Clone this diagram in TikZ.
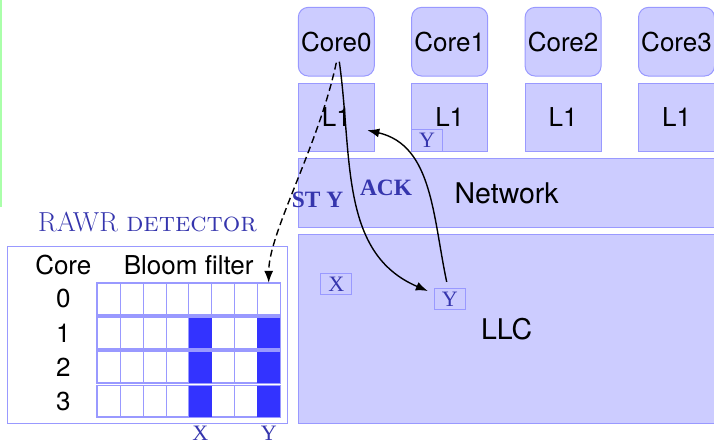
\documentclass[tikz,border=0pt]{standalone}
\usepackage{fontspec}
\newfontfamily\hv{TeX Gyre Heros}
\newfontfamily\tm{Liberation Serif}
\usetikzlibrary{arrows.meta}
\definecolor{boxfill}{HTML}{CCCCFF}
\definecolor{boxline}{HTML}{9999FF}
\definecolor{inkblue}{HTML}{3535AD}
\definecolor{bitset}{HTML}{3333FF}
\definecolor{guide}{HTML}{AAFFAA}
\begin{document}
\begin{tikzpicture}[x=1pt,y=-1pt,
  unit/.style={draw=boxline, fill=boxfill, line width=1pt, inner sep=0pt,
    font=\hv\fontsize{26}{30}\selectfont},
  corebox/.style={unit, rounded corners=10pt, minimum width=76pt, minimum height=68.7pt},
  l1box/.style={unit, minimum width=76pt, minimum height=67.7pt},
  widebox/.style={unit, minimum width=416.8pt, font=\hv\fontsize{28.5}{32}\selectfont},
  tag/.style={draw=boxline, line width=1pt, inner sep=0pt, minimum width=30.7pt,
    minimum height=21.2pt, text=inkblue, font=\tm\fontsize{22}{26}\selectfont},
  sans/.style={inner sep=0pt, font=\hv\fontsize{26}{30}\selectfont},
  cell/.style={draw=boxline, line width=0.9pt, inner sep=0pt, minimum width=22.8pt,
    minimum height=31pt},
  rowframe/.style={draw=boxline, line width=1.6pt},
  bitlbl/.style={inner sep=0pt, text=inkblue, font=\tm\fontsize{22}{26}\selectfont},
  msg/.style={inner sep=0pt, text=inkblue, font=\tm\bfseries\fontsize{23.4}{28}\selectfont},
  title/.style={inner sep=0pt, text=inkblue, font=\fontsize{27.5}{32}\selectfont},
  flow/.style={line width=1.4pt, -{Latex[length=12pt,width=9pt]}},
  probe/.style={flow, dash pattern=on 7pt off 4pt}
]
\useasboundingbox (0,0) rectangle (714,443);
\clip (0,0) rectangle (714,443);

% left guide rule
\draw[guide, line width=1.6pt] (0.8,0) -- (0.8,207);

% cores and private L1 caches
\foreach \i/\x in {0/336.3,1/449.7,2/563.1,3/676.5}{
  \node[corebox] (c\i) at (\x,41.7) {Core\i};
  \node[l1box] (l\i) at (\x,117.2) {L1};
}

% interconnect and shared last-level cache
\node[widebox, minimum height=68.6pt] (net) at (506.7,193) {Network};
\node[widebox, minimum height=188.6pt] (llc) at (506.7,329) {LLC};

% cached lines
\node[tag, anchor=south west] (l1y) at (l1.south west) {Y};
\node[tag] (llcx) at (336.3,283.8) {X};
\node[tag] (llcy) at (449.7,299) {Y};

% detector table
\node[draw=boxline, fill=white, line width=1pt, inner sep=0pt,
  minimum width=280pt, minimum height=177.3pt] (det) at (147.3,334.7) {};
\node[sans, anchor=base] (hcore) at (63.3,274.5) {Core};
\node[sans, anchor=base] (hbloom) at (188.7,274.5) {Bloom filter};
\foreach \r in {0,...,3}{
  \node[sans] (d\r) at (63.3,{298.8+34.2*\r}) {\r};
  \foreach \c in {0,...,7}{
    \node[cell] (b\r\c) at ({109.1+22.8*\c},{298.8+34.2*\r}) {};
  }
  \draw[rowframe] (b\r0.north west) rectangle (b\r7.south east);
}
\foreach \r in {1,2,3}{
  \foreach \c in {4,7}{
    \fill[bitset] ([shift={(0.6pt,-0.6pt)}]b\r\c.north west)
      rectangle ([shift={(-0.6pt,0.6pt)}]b\r\c.south east);
  }
}
\node[bitlbl, anchor=base] (bx) at ([yshift=-23.4pt]b34.south) {X};
\node[bitlbl, anchor=base] (by) at ([yshift=-23.4pt]b37.south) {Y};

% message flow
\draw[probe] ([yshift=-21pt]c0.center) .. controls +(-102:85pt) and +(90:50pt) .. (b07.north);
\draw[flow] ([xshift=3pt,yshift=-20pt]c0.center) to[out=-82,in=157]
  ([xshift=-6pt,yshift=8pt]llcy.west);
\draw[flow] ([xshift=-3pt,yshift=6pt]llcy.north) to[out=102,in=-13]
  ([xshift=-7.5pt,yshift=-13pt]l0.east);

% labels
\node[msg] (st) at (317.5,200) {ST Y};
\node[msg] (ack) at (386,188.3) {ACK};
\node[title, anchor=base] (rawr) at (147.5,232) {RAWR \textsc{detector}};
\end{tikzpicture}
\end{document}
